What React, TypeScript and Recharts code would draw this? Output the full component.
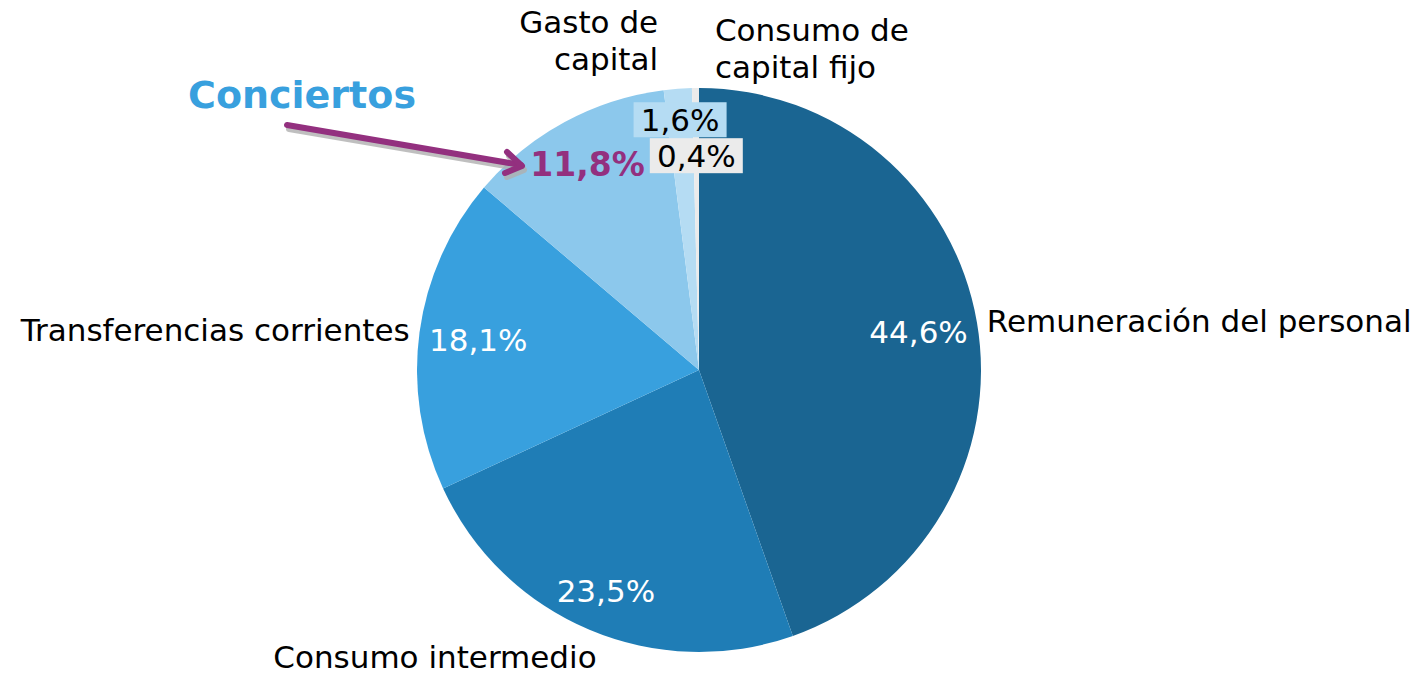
import React from 'react';
import { PieChart, Pie, Cell } from 'recharts';

const categories = [
  'Remuneración del personal',
  'Consumo intermedio',
  'Transferencias corrientes',
  'Conciertos',
  'Gasto de capital',
  'Consumo de capital fijo',
];
const values = [44.6, 23.5, 18.1, 11.8, 1.6, 0.4];
const valueLabels = ['44,6%', '23,5%', '18,1%', '11,8%', '1,6%', '0,4%'];
const outerLines = [
  ['Remuneración del personal'],
  ['Consumo intermedio'],
  ['Transferencias corrientes'],
  [],
  ['Gasto de', 'capital'],
  ['Consumo de', 'capital fijo'],
];
const colors = ['#1a6592', '#1f7db6', '#38a0de', '#8cc8ec', '#b5dcf3', '#ebebeb'];

const data = categories.map((name, i) => ({ name, value: values[i] }));

// label layout (radius factors / offsets)
const innerR = [0.79, 0.85, 0.79, 0.83, 0.89, 0.76];
const innerFill = ['#ffffff', '#ffffff', '#ffffff', '#93307f', '#000000', '#000000'];
const innerBold = [false, false, false, true, false, false];
const innerBox = [null, null, null, null, '#b5dcf3', '#ebebeb'];
const outerR = [9, 33, 10, 0, 48, 40];
const outerAnchor = ['start', 'end', 'end', 'start', 'end', 'start'];
const outerDx = [1, 20, 0, 0, -16, 20];
const outerDy = [0, -3, -1, 0, 0, 0];

const FONT = '"DejaVu Sans", Verdana, sans-serif';
const RAD = Math.PI / 180;

const renderLabel = (props: any) => {
  const { cx, cy, midAngle, outerRadius, index } = props;
  const ri = outerRadius * innerR[index];
  const ix = cx + ri * Math.cos(-midAngle * RAD);
  const iy = cy + ri * Math.sin(-midAngle * RAD);
  const ro = outerRadius + outerR[index];
  const ox = cx + ro * Math.cos(-midAngle * RAD) + outerDx[index];
  const oy = cy + ro * Math.sin(-midAngle * RAD) + outerDy[index];
  const lines = outerLines[index];
  const lh = 37;
  const fs = 31;
  const box = innerBox[index];
  const bw = 93;
  const bh = 35;
  return (
    <g key={`lbl-${index}`}>
      {box && (
        <rect x={ix - bw / 2} y={iy - bh / 2} width={bw} height={bh} fill={box} />
      )}
      <text
        x={ix}
        y={iy}
        fill={innerFill[index]}
        fontFamily={FONT}
        fontSize={innerBold[index] ? 33 : fs}
        fontWeight={innerBold[index] ? 'bold' : 'normal'}
        textAnchor="middle"
        dominantBaseline="central"
      >
        {valueLabels[index]}
      </text>
      {lines.length > 0 && (
        <text
          x={ox}
          y={oy - ((lines.length - 1) * lh) / 2}
          fill="#000000"
          fontFamily={FONT}
          fontSize={fs}
          textAnchor={outerAnchor[index] as any}
          dominantBaseline="central"
        >
          {lines.map((l, k) => (
            <tspan key={k} x={ox} dy={k === 0 ? 0 : lh}>
              {l}
            </tspan>
          ))}
        </text>
      )}
    </g>
  );
};

export default function App() {
  return (
    <div style={{ position: 'absolute', left: 0, top: 0, width: 1418, height: 675, background: '#fff' }}>
      <PieChart width={1418} height={675} margin={{ top: 0, right: 0, bottom: 0, left: 0 }}>
        <Pie
          data={data}
          dataKey="value"
          nameKey="name"
          cx={699}
          cy={370}
          outerRadius={282}
          startAngle={90}
          endAngle={-270}
          stroke="none"
          isAnimationActive={false}
          label={renderLabel}
          labelLine={false}
        >
          {data.map((d, i) => (
            <Cell key={d.name} fill={colors[i]} />
          ))}
        </Pie>
      </PieChart>
      <svg
        width={1418}
        height={675}
        style={{ position: 'absolute', left: 0, top: 0, pointerEvents: 'none' }}
      >
        <text x={188} y={95} fill="#38a0de" fontFamily={FONT} fontSize={38} fontWeight="bold" dominantBaseline="central">
          Conciertos
        </text>
        <g transform="translate(2,4)" stroke="#b0b0b0" strokeWidth={6} fill="none" strokeLinecap="round" strokeLinejoin="round" opacity={0.8}>
          <line x1={287} y1={125} x2={521} y2={165} />
          <polyline points="507,152 522,166 505,173" />
        </g>
        <g stroke="#93307f" strokeWidth={6} fill="none" strokeLinecap="round" strokeLinejoin="round">
          <line x1={287} y1={125} x2={521} y2={165} />
          <polyline points="507,152 522,166 505,173" />
        </g>
      </svg>
    </div>
  );
}
